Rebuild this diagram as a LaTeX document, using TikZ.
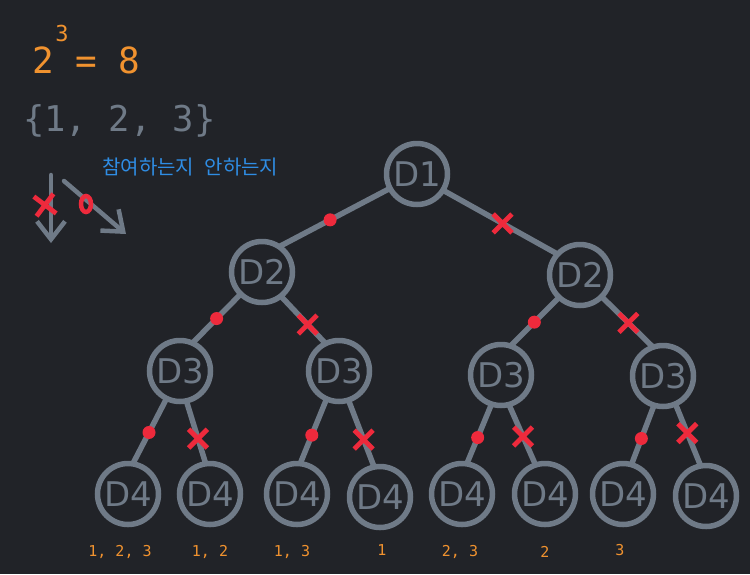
\documentclass[tikz,border=0pt]{standalone}
\usepackage{fontspec}
\setmainfont{DejaVu Sans}
\newfontfamily\monof{DejaVu Sans Mono}
\newfontfamily\krf{Noto Sans CJK KR}
\usetikzlibrary{shapes.misc,shapes.geometric,arrows.meta}
\definecolor{bgc}{HTML}{212328}
\definecolor{grayc}{HTML}{6F7A87}
\definecolor{txtc}{HTML}{6F7A87}
\definecolor{orc}{HTML}{F0922F}
\definecolor{redc}{HTML}{EE2A3C}
\definecolor{bluec}{HTML}{2F8DE4}
\begin{document}
\begin{tikzpicture}[x=1pt,y=-1pt,
  dnode/.style={circle,draw=grayc,line width=5.5pt,fill=bgc,minimum size=61pt,inner sep=0pt,outer sep=0pt,text=txtc,font=\fontsize{34}{34}\selectfont},
  edge/.style={draw=grayc,line width=5.5pt},
  dotmark/.style={circle,fill=redc,inner sep=0pt,minimum size=13pt},
  xmark/.style={cross out,draw=redc,line width=4.8pt,inner sep=0pt,minimum size=14pt},
  lbl/.style={text=orc,font=\monof\fontsize{15}{15}\selectfont,inner sep=0pt},
  garrow/.style={draw=grayc,line width=4.5pt,line cap=round,-{Straight Barb[length=18pt,width=28pt,line width=4.5pt]}}
]
\fill[bgc] (0,0) rectangle (750,574);
\useasboundingbox (0,0) rectangle (750,574);

% header text
\node[text=orc,font=\monof\fontsize{36}{36}\selectfont,inner sep=0pt] (two) at (43,60) {2};
\node[text=orc,font=\monof\fontsize{22}{22}\selectfont,inner sep=0pt] (exp) at (62,33) {3};
\node[text=orc,font=\monof\fontsize{36}{36}\selectfont,inner sep=0pt,anchor=west] (eq) at (75,60) {= 8};
\node[text=txtc,font=\monof\fontsize{35.5}{35}\selectfont,inner sep=0pt,anchor=west] (set) at (23,121) {\{1, 2, 3\}};
\node[text=bluec,font=\krf\fontsize{20}{20}\selectfont,inner sep=0pt,anchor=west] (kr) at (102,167) {참여하는지\hspace{6pt} 안하는지};

% legend arrows
\coordinate (a1s) at (51,175);
\coordinate (a1e) at (51,243);
\coordinate (a2s) at (64,181);
\coordinate (a2e) at (126,234);
\draw[garrow] (a1s) -- (a1e);
\draw[garrow] (a2s) -- (a2e);
\node[xmark,minimum size=15pt,rotate=8] (lx) at (45,205) {};
\node[draw=redc,line width=4.5pt,ellipse,minimum width=10pt,minimum height=16pt,inner sep=0pt] (lo) at (86,204) {};

% tree nodes
\node[dnode] (d1) at (417,174) {D1};
\node[dnode] (d2a) at (262,272) {D2};
\node[dnode] (d2b) at (580,275) {D2};
\node[dnode] (d3a) at (180,371) {D3};
\node[dnode] (d3b) at (339,371) {D3};
\node[dnode] (d3c) at (501,375) {D3};
\node[dnode] (d3d) at (663,376) {D3};
\node[dnode] (d4a) at (128,494) {D4};
\node[dnode] (d4b) at (210,494) {D4};
\node[dnode] (d4c) at (297,494) {D4};
\node[dnode] (d4d) at (380,497) {D4};
\node[dnode] (d4e) at (462,494) {D4};
\node[dnode] (d4f) at (545,494) {D4};
\node[dnode] (d4g) at (623,494) {D4};
\node[dnode] (d4h) at (706,496) {D4};

% edges with markers
\path[edge] (d1.208) -- node[dotmark,pos=0.54]{} (d2a.56);
\path[edge] (d1.328) -- node[xmark,pos=0.52]{} (d2b.137);
\path[edge] (d2a.226) -- node[dotmark,pos=0.5]{} (d3a.66);
\path[edge] (d2a.308) -- node[xmark,pos=0.6]{} (d3b.116);
\path[edge] (d2b.227) -- node[dotmark,pos=0.51]{} (d3c.72);
\path[edge] (d2b.315) -- node[xmark,pos=0.52]{} (d3d.109);
\path[edge] (d3a.244) -- node[dotmark,pos=0.52]{} (d4a.81);
\path[edge] (d3a.282) -- node[xmark,pos=0.6]{} (d4b.98);
\path[edge] (d3b.246) -- node[dotmark,pos=0.56]{} (d4c.84);
\path[edge] (d3b.288) -- node[xmark,pos=0.59]{} (d4d.101);
\path[edge] (d3c.252) -- node[dotmark,pos=0.56]{} (d4e.81);
\path[edge] (d3c.285) -- node[xmark,pos=0.53]{} (d4f.108);
\path[edge] (d3d.253) -- node[dotmark,pos=0.56]{} (d4g.74);
\path[edge] (d3d.294) -- node[xmark,pos=0.47]{} (d4h.100);

% bottom labels
\node[lbl] (l1) at (120,552) {1, 2, 3};
\node[lbl] (l2) at (210,552) {1, 2};
\node[lbl] (l3) at (292,552) {1, 3};
\node[lbl] (l4) at (382,550) {1};
\node[lbl] (l5) at (460,552) {2, 3};
\node[lbl] (l6) at (545,552) {2};
\node[lbl] (l7) at (620,550) {3};
\end{tikzpicture}
\end{document}
